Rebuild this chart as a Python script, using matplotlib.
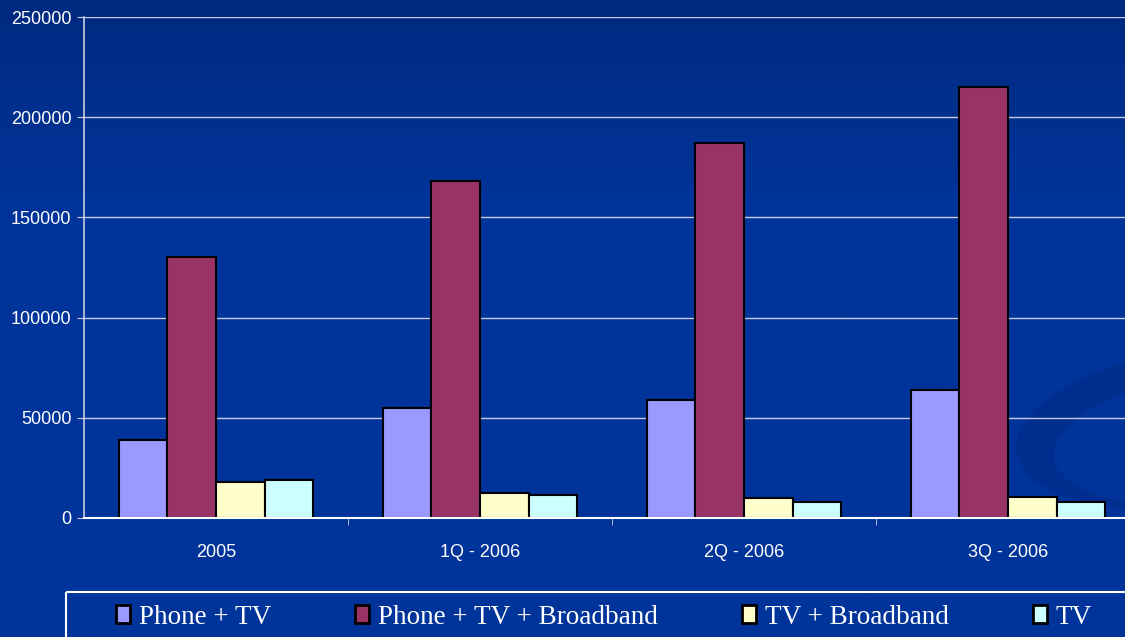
import numpy as np
import matplotlib
matplotlib.use("Agg")
import matplotlib.pyplot as plt
from matplotlib.patches import Ellipse, Rectangle

# data
periods = ["2005", "1Q - 2006", "2Q - 2006", "3Q - 2006"]
series = ["Phone + TV", "Phone + TV + Broadband", "TV + Broadband", "TV"]
phone_tv = [39000, 55000, 59000, 64000]
phone_tv_bb = [130000, 168000, 187000, 215000]
tv_bb = [18000, 12500, 9800, 10600]
tv = [19000, 11500, 8100, 8100]
yticks = [0, 50000, 100000, 150000, 200000, 250000]

colors = ["#9999FF", "#993366", "#FFFFCC", "#CCFFFF"]

W, H = 1125, 637
fig = plt.figure(figsize=(W / 100, H / 100), dpi=100)
fig.patch.set_facecolor("#003399")

# background gradient, faint swirl and the legend box outline
bg = fig.add_axes([0, 0, 1, 1], zorder=-10)
grad = np.linspace(0, 1, 256).reshape(-1, 1)
top = np.array([0x00, 0x2A, 0x80]) / 255
bot = np.array([0x00, 0x34, 0x9A]) / 255
img = top + (bot - top) * np.clip(grad * 3, 0, 1)[..., None]
bg.imshow(img.reshape(256, 1, 3), aspect="auto", extent=[0, W, H, 0])
# crescent: darker ellipse with a background-coloured one laid over it
bg.add_patch(Ellipse((1190, 428), 350, 156, angle=-8, fc="#002E8E", ec="none"))
bg.add_patch(Ellipse((1203, 438), 300, 126, angle=-8, fc=bot, ec="none"))
bg.add_patch(Rectangle((66, 592), 1200, 100, fill=False, ec="white", lw=1.5))
bg.set_xlim(0, W)
bg.set_ylim(H, 0)
bg.axis("off")

ax = fig.add_axes([84 / W, 1 - 518 / H, 1056 / W, 501 / H])
ax.set_facecolor("none")

x = np.arange(len(periods))
bw = 0.184
for i, (vals, name) in enumerate(zip([phone_tv, phone_tv_bb, tv_bb, tv], series)):
    ax.bar(x + (i - 1.5) * bw, vals, width=bw, color=colors[i],
           edgecolor="black", linewidth=1.5, label=name, zorder=3)

ax.set_xlim(-0.5, 3.5)
ax.set_ylim(0, 250000)
ax.set_yticks(yticks)
ax.set_yticklabels([str(v) for v in yticks])
ax.yaxis.grid(True, color="#C8CCE0", lw=1, zorder=0)
ax.set_xticks(x)
ax.set_xticklabels(periods)
ax.set_xticks([0.5, 1.5, 2.5], minor=True)
ax.tick_params(axis="x", which="major", length=0, pad=19,
               labelsize=13, labelcolor="white")
ax.tick_params(axis="x", which="minor", length=5, color="#C8CCE0", direction="out")
ax.tick_params(axis="y", length=5, color="#C8CCE0", labelsize=13,
               labelcolor="white", pad=4)
for lab in ax.get_xticklabels() + ax.get_yticklabels():
    lab.set_fontfamily("Liberation Sans")

for s in ["top", "right"]:
    ax.spines[s].set_visible(False)
ax.spines["left"].set_color("#C8CCE0")
ax.spines["left"].set_linewidth(1.2)
ax.spines["bottom"].set_color("white")
ax.spines["bottom"].set_linewidth(1.5)
ax.spines["bottom"].set_zorder(4)

leg = fig.legend(loc="center left", ncol=4,
                 bbox_to_anchor=(116 / W, 1 - 617 / H),
                 frameon=False, borderaxespad=0, borderpad=0,
                 handlelength=0.52, handleheight=0.62, handletextpad=0.33,
                 columnspacing=3.1,
                 prop={"family": "Liberation Serif", "size": 19.5})
for t in leg.get_texts():
    t.set_color("white")
for h in leg.legend_handles:
    h.set_linewidth(2)

fig.savefig("out.png", dpi=100, facecolor=fig.get_facecolor())
